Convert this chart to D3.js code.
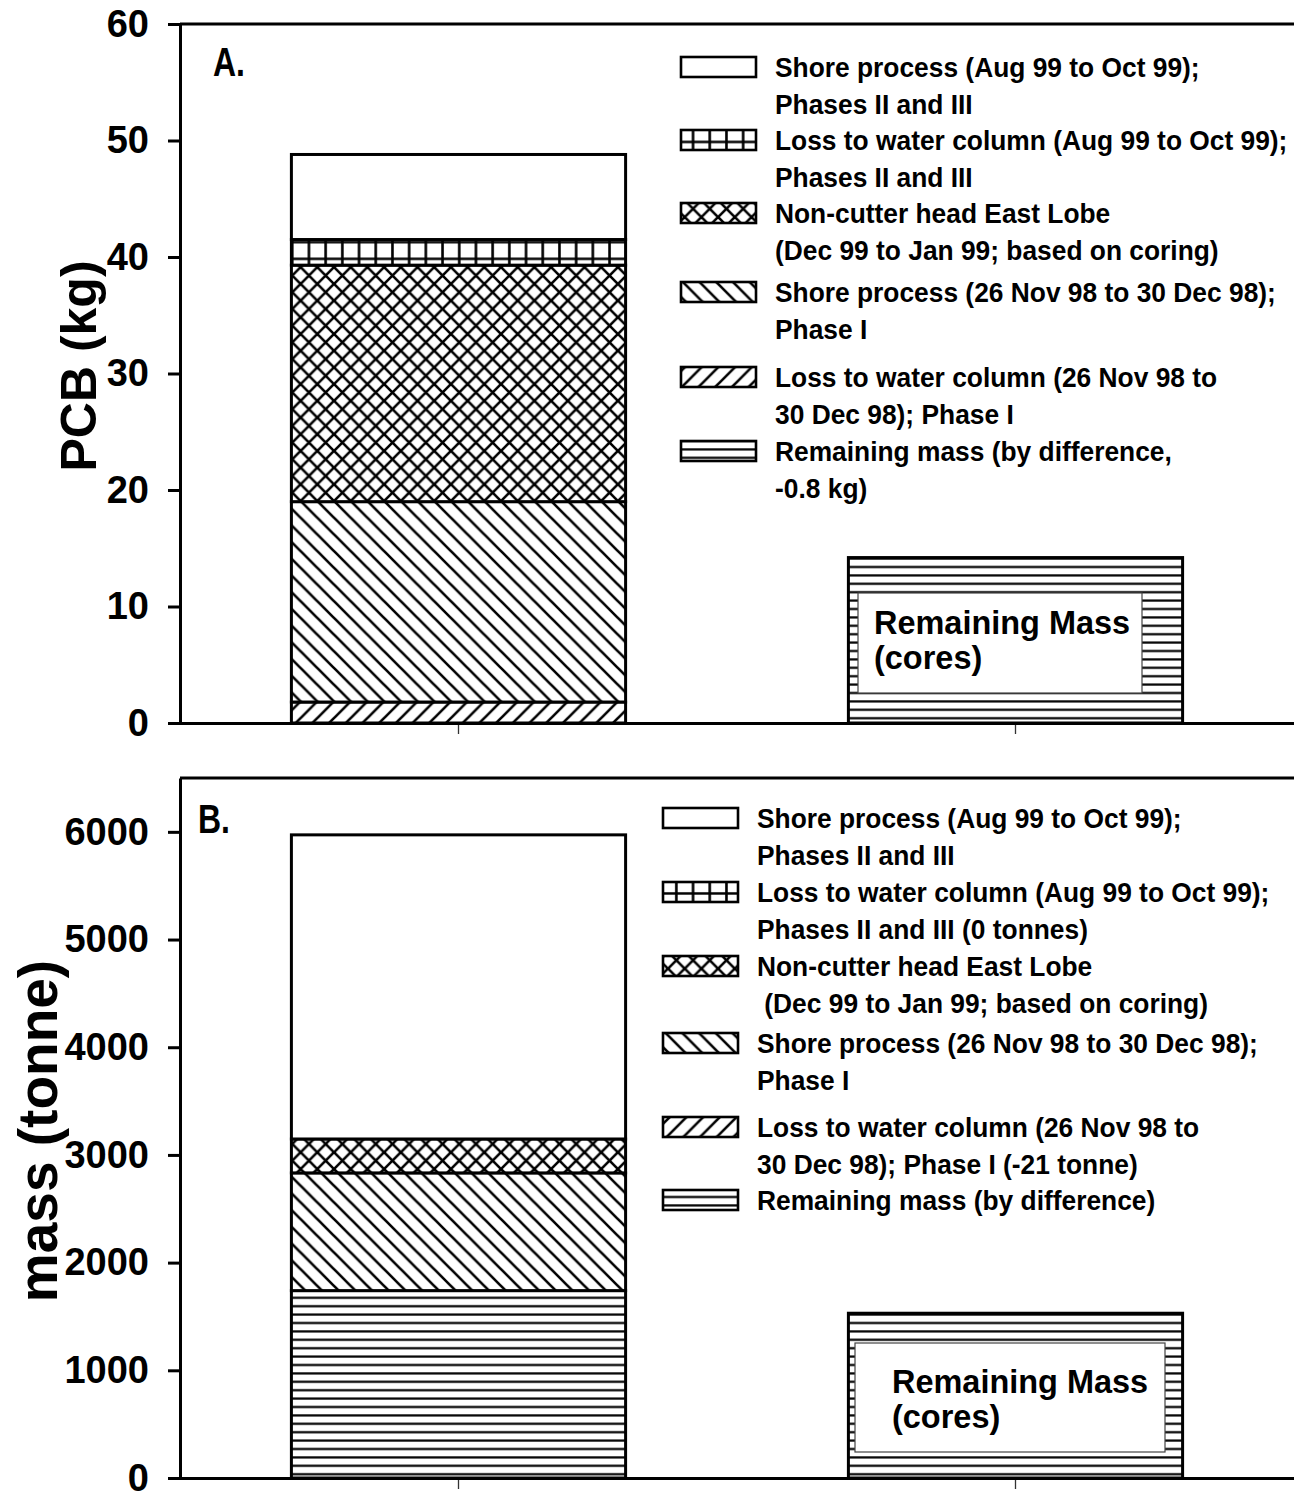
<!DOCTYPE html>
<html><head><meta charset="utf-8">
<script src="https://cdn.jsdelivr.net/npm/d3@7"></script>
<style>
body{margin:0;background:#fff}
svg{display:block}
text{font-family:"Liberation Sans",Arial,Helvetica,sans-serif;font-weight:bold;fill:#000}
</style></head><body>
<svg id="chart" width="1297" height="1492"></svg>
<script>
// Stacked segments, bottom to top
const segmentKeys = ["remainingDiff", "lossWaterI", "shoreI", "nonCutter", "lossWaterII", "shoreII"];
const barGroups = ["removed", "cores"];

// Panel A: PCB (kg)
const pcbKg = [-0.8, 1.8, 17.2, 20.3, 2.2, 7.3];
const pcbCoresKg = 14.2;
const pcbTicks = [0, 10, 20, 30, 40, 50, 60];

// Panel B: sediment mass (tonne)
const massTonne = [1740, -21, 1093, 315, 0, 2824];
const massCoresTonne = 1530;
const massTicks = [0, 1000, 2000, 3000, 4000, 5000, 6000];

// Legend entries, top to bottom
const legendKeys = ["shoreII", "lossWaterII", "nonCutter", "shoreI", "lossWaterI", "remainingDiff"];
const legendTextA = [
  ["Shore process (Aug 99 to Oct 99);", "Phases II and III"],
  ["Loss to water column (Aug 99 to Oct 99);", "Phases II and III"],
  ["Non-cutter head East Lobe", "(Dec 99 to Jan 99; based on coring)"],
  ["Shore process (26 Nov 98 to 30 Dec 98);", "Phase I"],
  ["Loss to water column (26 Nov 98 to", "30 Dec 98); Phase I"],
  ["Remaining mass (by difference,", "-0.8 kg)"]
];
const legendTextB = [
  ["Shore process (Aug 99 to Oct 99);", "Phases II and III"],
  ["Loss to water column (Aug 99 to Oct 99);", "Phases II and III (0 tonnes)"],
  ["Non-cutter head East Lobe", " (Dec 99 to Jan 99; based on coring)"],
  ["Shore process (26 Nov 98 to 30 Dec 98);", "Phase I"],
  ["Loss to water column (26 Nov 98 to", "30 Dec 98); Phase I (-21 tonne)"],
  ["Remaining mass (by difference)"]
];
const coresLabel = ["Remaining Mass", "(cores)"];

const svg = d3.select("#chart");
const defs = svg.append("defs");

// Hatch fills
const s = 16.7;
function pattern(id, w, h, d, sw) {
  const p = defs.append("pattern").attr("id", id)
    .attr("patternUnits", "userSpaceOnUse").attr("width", w).attr("height", h);
  p.append("rect").attr("width", w).attr("height", h).attr("fill", "#fff");
  p.append("path").attr("d", d).attr("stroke", "#000").attr("stroke-width", sw).attr("fill", "none");
}
const down = `M0,0L${s},${s}M${-s/2},${s/2}L${s/2},${s*1.5}M${s/2},${-s/2}L${s*1.5},${s/2}`;
const up = `M0,${s}L${s},0M${-s/2},${s/2}L${s/2},${-s/2}M${s/2},${s*1.5}L${s*1.5},${s/2}`;
pattern("p-diagDown", s, s, down, 2.6);
pattern("p-diagUp", s, s, up, 2.6);
pattern("p-cross", s, s, down + up, 2.6);
pattern("p-grid", s, s, `M${s/2},0V${s}M0,${s/2}H${s}`, 2.6);
pattern("p-horiz", s, 8.4, `M0,4.2H${s}`, 2.2);

const fillFor = {
  remainingDiff: "url(#p-horiz)",
  lossWaterI: "url(#p-diagUp)",
  shoreI: "url(#p-diagDown)",
  nonCutter: "url(#p-cross)",
  lossWaterII: "url(#p-grid)",
  shoreII: "#fff"
};

// Text with a slight horizontal squeeze (narrow bold face)
function label(g, x, y, str, size, sx) {
  return g.append("text").attr("transform", `translate(${x},${y}) scale(${sx},1)`)
    .attr("font-size", size).attr("xml:space", "preserve").text(str);
}

const x = d3.scaleBand().domain(barGroups).range([180, 1294]).paddingInner(0.4).paddingOuter(0.2);

function drawPanel(cfg) {
  const g = svg.append("g");
  const y = d3.scaleLinear().domain(cfg.domain).range([cfg.bottom, cfg.top]);

  // stacked bar (negative components sit at zero)
  const row = {};
  segmentKeys.forEach((k, i) => row[k] = cfg.values[i]);
  const stack = d3.stack().keys(segmentKeys).value((d, k) => Math.max(0, d[k]))([row]);
  g.selectAll(".seg").data(stack.filter(l => l[0][1] > l[0][0])).join("rect")
    .attr("x", x("removed")).attr("width", x.bandwidth())
    .attr("y", d => y(d[0][1])).attr("height", d => y(d[0][0]) - y(d[0][1]))
    .attr("fill", d => fillFor[d.key]).attr("stroke", "#000").attr("stroke-width", 3);

  // cores bar
  g.append("rect").attr("x", x("cores")).attr("width", x.bandwidth())
    .attr("y", y(cfg.cores)).attr("height", y(0) - y(cfg.cores))
    .attr("fill", fillFor.remainingDiff).attr("stroke", "#000").attr("stroke-width", 3);
  const b = cfg.box;
  g.append("rect").attr("x", b.x0).attr("y", b.y0).attr("width", b.x1 - b.x0).attr("height", b.y1 - b.y0)
    .attr("fill", "#fff").attr("stroke", "#444").attr("stroke-width", 1.2);
  coresLabel.forEach((t, i) => label(g, b.tx, b.ty + i * b.lh, t, 34, 0.955));

  // frame top line
  g.append("line").attr("x1", 180).attr("x2", 1294).attr("y1", cfg.top).attr("y2", cfg.top)
    .attr("stroke", "#000").attr("stroke-width", 3);

  // y axis
  const ya = g.append("g").attr("transform", "translate(180,0)")
    .call(d3.axisLeft(y).tickValues(cfg.ticks).tickFormat(d3.format("d"))
      .tickSize(12).tickPadding(19).tickSizeOuter(0));
  ya.select(".domain").attr("stroke-width", 3);
  ya.selectAll(".tick line").attr("stroke-width", 3);
  ya.selectAll(".tick text").attr("font-size", 38).attr("font-family", null).attr("font-weight", "bold");

  // x axis
  const xa = g.append("g").attr("transform", `translate(0,${cfg.bottom})`)
    .call(d3.axisBottom(x).tickSize(11).tickSizeOuter(0).tickFormat(""));
  xa.select(".domain").attr("stroke-width", 3).attr("d", `M168,0.5H1294`);
  xa.selectAll(".tick line").attr("stroke", "#333").attr("stroke-width", 1.3).attr("y1", 2);

  // axis title
  g.append("text").attr("transform", `translate(${cfg.titleX},${cfg.titleY}) rotate(-90)`)
    .attr("text-anchor", "middle").attr("font-size", cfg.titleSize).text(cfg.title);

  // panel letter
  label(g, cfg.letter[0], cfg.letter[1], cfg.letter[2], 40, 0.8);

  // legend
  legendKeys.forEach((k, i) => {
    const by = cfg.legendY[i];
    g.append("rect").attr("x", cfg.swX).attr("y", by - 20).attr("width", 75).attr("height", 20)
      .attr("fill", fillFor[k]).attr("stroke", "#000").attr("stroke-width", 2.6);
    cfg.legendText[i].forEach((t, j) => label(g, cfg.txX, by + j * 36.5, t, 28.5, 0.925));
  });
}

drawPanel({
  domain: [0, 60], top: 24, bottom: 723, values: pcbKg, cores: pcbCoresKg, ticks: pcbTicks,
  title: "PCB (kg)", titleX: 96, titleY: 366, titleSize: 50, letter: [213, 76, "A."],
  box: {x0: 858, y0: 593, x1: 1142, y1: 693, tx: 874, ty: 634, lh: 35},
  swX: 681, txX: 775, legendY: [77, 150, 223, 302, 387, 461], legendText: legendTextA
});
drawPanel({
  domain: [0, 6500], top: 778, bottom: 1478, values: massTonne, cores: massCoresTonne, ticks: massTicks,
  title: "mass (tonne)", titleX: 57, titleY: 1131, titleSize: 55, letter: [198, 833, "B."],
  box: {x0: 855, y0: 1343, x1: 1165, y1: 1452, tx: 892, ty: 1393, lh: 35},
  swX: 663, txX: 757, legendY: [828, 902, 976, 1053, 1137, 1210], legendText: legendTextB
});
</script>
</body></html>
